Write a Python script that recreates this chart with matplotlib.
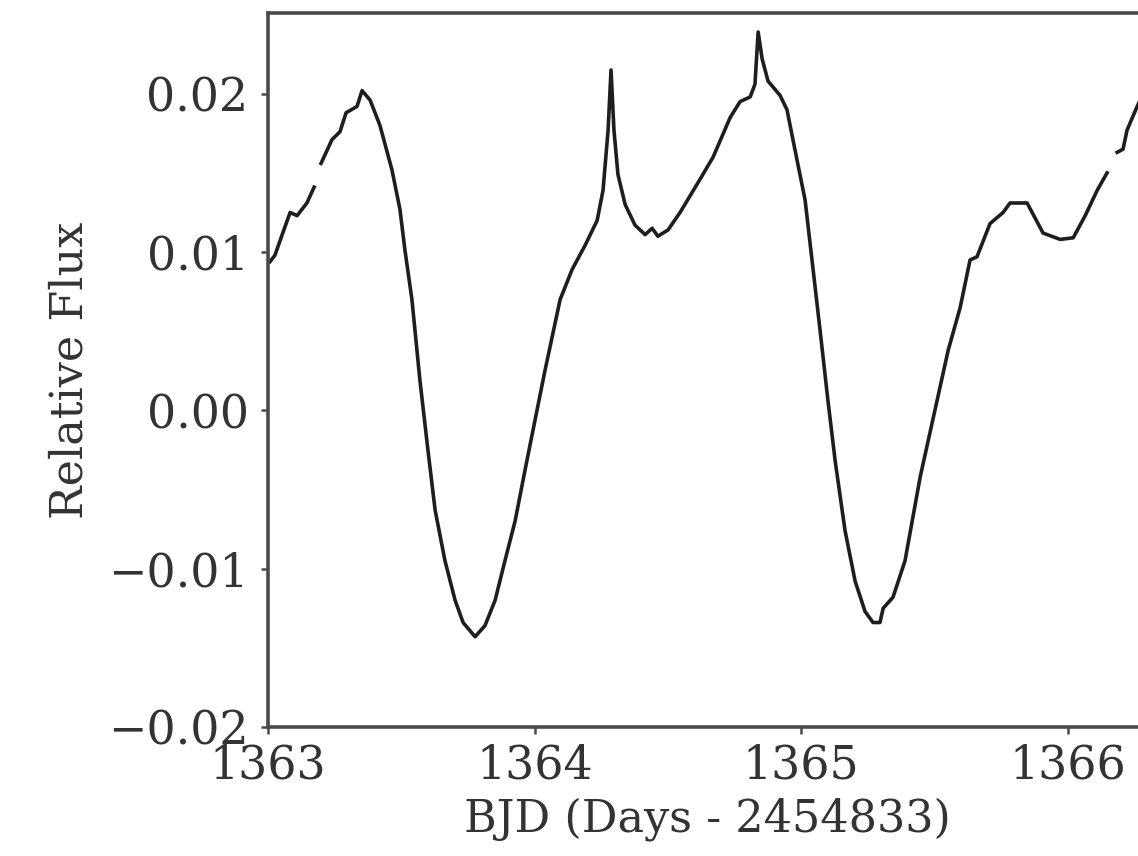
import numpy as np
import matplotlib.pyplot as plt

plt.rcParams['font.family'] = 'DejaVu Serif'

# light curve, nan marks the data gaps
bjd = [1363.008, 1363.026, 1363.049, 1363.083, 1363.109, 1363.146, 1363.173, np.nan,
       1363.199, 1363.240, 1363.270, 1363.293, 1363.334, 1363.353, 1363.383, 1363.420,
       1363.465, 1363.495, 1363.514, 1363.540, 1363.570, 1363.600, 1363.627, 1363.664,
       1363.702, 1363.732, 1363.777, 1363.814, 1363.852, 1363.889, 1363.927, 1363.964,
       1364.002, 1364.039, 1364.096, 1364.141, 1364.189, 1364.235, 1364.257, 1364.276,
       1364.287, 1364.298, 1364.313, 1364.340, 1364.377, 1364.415, 1364.441, 1364.463,
       1364.501, 1364.546, 1364.621, 1364.670, 1364.734, 1364.771, 1364.809, 1364.827,
       1364.839, 1364.854, 1364.876, 1364.921, 1364.947, 1364.985, 1365.015, 1365.041,
       1365.071, 1365.101, 1365.128, 1365.165, 1365.203, 1365.240, 1365.270, 1365.296,
       1365.308, 1365.345, 1365.390, 1365.447, 1365.510, 1365.552, 1365.597, 1365.634,
       1365.660, 1365.709, 1365.758, 1365.784, 1365.848, 1365.908, 1365.972, 1366.021,
       1366.066, 1366.111, 1366.148, np.nan,
       1366.186, 1366.208, 1366.223, 1366.261, 1366.275]
flux = [0.0094, 0.0098, 0.0109, 0.0125, 0.0123, 0.0131, 0.0141, np.nan,
        0.0156, 0.0171, 0.0176, 0.0188, 0.0192, 0.0202, 0.0196, 0.0180,
        0.0152, 0.0127, 0.0101, 0.0070, 0.0019, -0.0025, -0.0063, -0.0095,
        -0.0120, -0.0134, -0.0143, -0.0136, -0.0120, -0.0095, -0.0070, -0.0038,
        -0.0006, 0.0025, 0.0070, 0.0089, 0.0104, 0.0120, 0.0139, 0.0177,
        0.0215, 0.0177, 0.0149, 0.0130, 0.0117, 0.0111, 0.0115, 0.0110,
        0.0114, 0.0125, 0.0146, 0.0160, 0.0185, 0.0195, 0.0198, 0.0206,
        0.0239, 0.0222, 0.0208, 0.0199, 0.0190, 0.0158, 0.0133, 0.0095,
        0.0051, 0.0006, -0.0032, -0.0076, -0.0108, -0.0127, -0.0134, -0.0134,
        -0.0125, -0.0118, -0.0095, -0.0042, 0.0006, 0.0038, 0.0065, 0.0095,
        0.0097, 0.0118, 0.0125, 0.0131, 0.0131, 0.0112, 0.0108, 0.0109,
        0.0123, 0.0139, 0.0150, np.nan,
        0.0163, 0.0165, 0.0177, 0.0192, 0.0197]

xticks = [1363, 1364, 1365, 1366]
yticks = [-0.02, -0.01, 0.00, 0.01, 0.02]

fig = plt.figure(figsize=(11.38, 8.56), dpi=100)
ax = fig.add_axes([0.2355, 0.1507, 0.7729, 0.8341])

ax.plot(bjd, flux, color='#1e1e1e', lw=2.6)

ax.set_xlim(1363, 1366.3)
ax.set_ylim(-0.02, 0.0251)
ax.set_xticks(xticks)
ax.set_yticks(yticks)
ax.set_yticklabels(['\u22120.02', '\u22120.01', '0.00', '0.01', '0.02'])

for s in ax.spines.values():
    s.set_linewidth(2.6)
    s.set_color('#4a4a4a')
ax.tick_params(axis='both', labelsize=33, length=5, width=1.8, color='#4a4a4a',
               labelcolor='#333333')
ax.tick_params(axis='x', pad=7)
ax.tick_params(axis='y', pad=9)

ax.set_xlabel('BJD (Days - 2454833)', fontsize=32, color='#333333', labelpad=6)
ax.set_ylabel('Relative Flux', fontsize=32, color='#333333', labelpad=12)

fig.savefig('out.png', dpi=100)
